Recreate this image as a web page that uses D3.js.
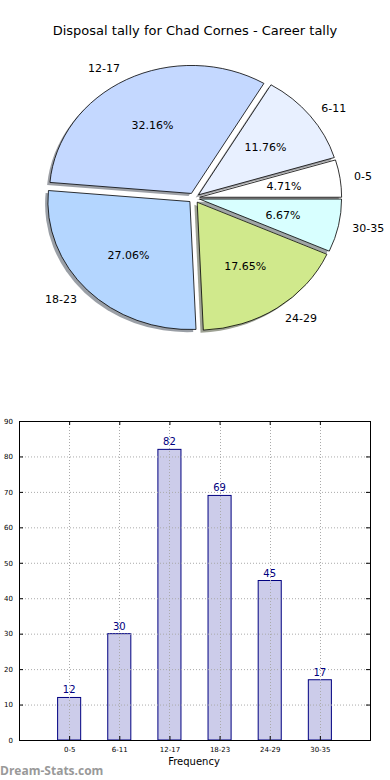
<!DOCTYPE html>
<html><head><meta charset="utf-8">
<script src="https://cdn.jsdelivr.net/npm/d3@7"></script>
<style>body{margin:0;background:#fff}svg{display:block;font-family:"DejaVu Sans",sans-serif}</style>
</head><body>
<svg id="c" width="390" height="780"></svg>
<script>
const categories = ["0-5","6-11","12-17","18-23","24-29","30-35"];
const values = [12,30,82,69,45,17];
const pieColors = ["#ffffff","#e8f0ff","#c4d8ff","#b4d6ff","#d0e98c","#d8ffff"];
const yTicks = [0,10,20,30,40,50,60,70,80,90];
const title = "Disposal tally for Chad Cornes - Career tally";

const svg = d3.select("#c");
svg.append("text").attr("x",195).attr("y",35).attr("text-anchor","middle")
  .attr("font-size",13).text(title);

// ---- Pie (elliptical, matplotlib-like) ----
const cx=194, cy=198, rx=142, ry=128, expl=0.04;
const pie = d3.pie().sort(null).startAngle(Math.PI/2).endAngle(Math.PI/2-2*Math.PI);
const arcs = pie(values);
const arc = d3.arc().innerRadius(0).outerRadius(ry);
const total = d3.sum(values);
const pg = svg.append("g");
function offs(d){const m=(d.startAngle+d.endAngle)/2;return [cx+expl*rx*Math.sin(m), cy-expl*ry*Math.cos(m), m];}
// shadows
arcs.forEach((d,i)=>{
  const [x,y]=offs(d);
  const c=d3.rgb(pieColors[i]);
  pg.append("path").attr("d",arc(d))
    .attr("transform",`translate(${x-2.8},${y+2.6}) scale(${rx/ry},1)`)
    .attr("fill",d3.rgb(c.r*0.3,c.g*0.3,c.b*0.3)).attr("fill-opacity",0.5);
});
arcs.forEach((d,i)=>{
  const [x,y]=offs(d);
  pg.append("path").attr("d",arc(d))
    .attr("transform",`translate(${x},${y}) scale(${rx/ry},1)`)
    .attr("fill",pieColors[i]).attr("stroke","#000").attr("stroke-width",0.8)
    .attr("vector-effect","non-scaling-stroke");
});
arcs.forEach((d,i)=>{
  const [x,y,m]=offs(d);
  const lx=x+1.1*rx*Math.sin(m), ly=y-1.1*ry*Math.cos(m);
  pg.append("text").attr("x",lx).attr("y",ly).attr("dy","0.35em")
    .attr("text-anchor", lx>x?"start":"end").attr("font-size",11).text(categories[i]);
  const px=x+0.6*rx*Math.sin(m), py=y-0.6*ry*Math.cos(m);
  pg.append("text").attr("x",px).attr("y",py).attr("dy","0.35em")
    .attr("text-anchor","middle").attr("font-size",11)
    .text((values[i]/total*100).toFixed(2)+"%");
});

// ---- Bar chart ----
const L=19,R=370,T=421,B=740;
const x = d3.scaleLinear().domain([0,categories.length+1]).range([L,R]);
const y = d3.scaleLinear().domain([0,90]).range([B,T]);
const bw = 0.46;
const bg = svg.append("g");
bg.selectAll("rect.bar").data(values).join("rect").attr("class","bar")
  .attr("x",(d,i)=>x(i+1-bw/2)).attr("width",x(bw)-x(0))
  .attr("y",d=>y(d)).attr("height",d=>y(0)-y(d))
  .attr("fill","#ccccea").attr("stroke","#000080").attr("stroke-width",1);
// grid
bg.selectAll("line.hg").data(yTicks).join("line")
  .attr("x1",L).attr("x2",R).attr("y1",d=>y(d)+0.5).attr("y2",d=>y(d)+0.5)
  .attr("stroke","#aaa").attr("stroke-width",1).attr("stroke-dasharray","1,2");
bg.selectAll("line.vg").data(categories).join("line")
  .attr("x1",(d,i)=>Math.round(x(i+1))+0.5).attr("x2",(d,i)=>Math.round(x(i+1))+0.5)
  .attr("y1",T).attr("y2",B).attr("stroke","#aaa").attr("stroke-width",1).attr("stroke-dasharray","1,2");
// axes via d3
const yl = d3.axisLeft(y).tickValues(yTicks).tickSize(-4).tickPadding(6);
const yr = d3.axisRight(y).tickValues(yTicks).tickSize(-4).tickFormat("");
const xb = d3.axisBottom(x).tickValues(d3.range(1,categories.length+1)).tickSize(-4).tickPadding(7)
  .tickFormat(d=>categories[d-1]);
const xt = d3.axisTop(x).tickValues(d3.range(1,categories.length+1)).tickSize(-4).tickFormat("");
function style(g){g.select(".domain").remove();g.selectAll(".tick line").attr("stroke","#000");
  g.selectAll("text").attr("font-size",7).attr("fill","#000").attr("font-family","DejaVu Sans, sans-serif");}
bg.append("g").attr("transform",`translate(${L},0)`).call(yl).call(style);
bg.append("g").attr("transform",`translate(${R},0)`).call(yr).call(style);
bg.append("g").attr("transform",`translate(0,${B})`).call(xb).call(style);
bg.append("g").attr("transform",`translate(0,${T})`).call(xt).call(style);
bg.append("rect").attr("x",L+0.5).attr("y",T+0.5).attr("width",R-L).attr("height",B-T)
  .attr("fill","none").attr("stroke","#000").attr("stroke-width",1);
// value labels
bg.selectAll("text.val").data(values).join("text").attr("class","val")
  .attr("x",(d,i)=>x(i+1)).attr("y",d=>y(d)-4).attr("text-anchor","middle")
  .attr("font-size",10).attr("fill","#000080").text(d=>d);
bg.append("text").attr("x",194).attr("y",765).attr("text-anchor","middle").attr("font-size",10).text("Frequency");
svg.append("text").attr("x",0).attr("y",775).attr("font-size",12).attr("fill","#999")
  .attr("font-weight","bold").attr("font-family","Open Sans, sans-serif").text("Dream-Stats.com");
</script>
</body></html>
